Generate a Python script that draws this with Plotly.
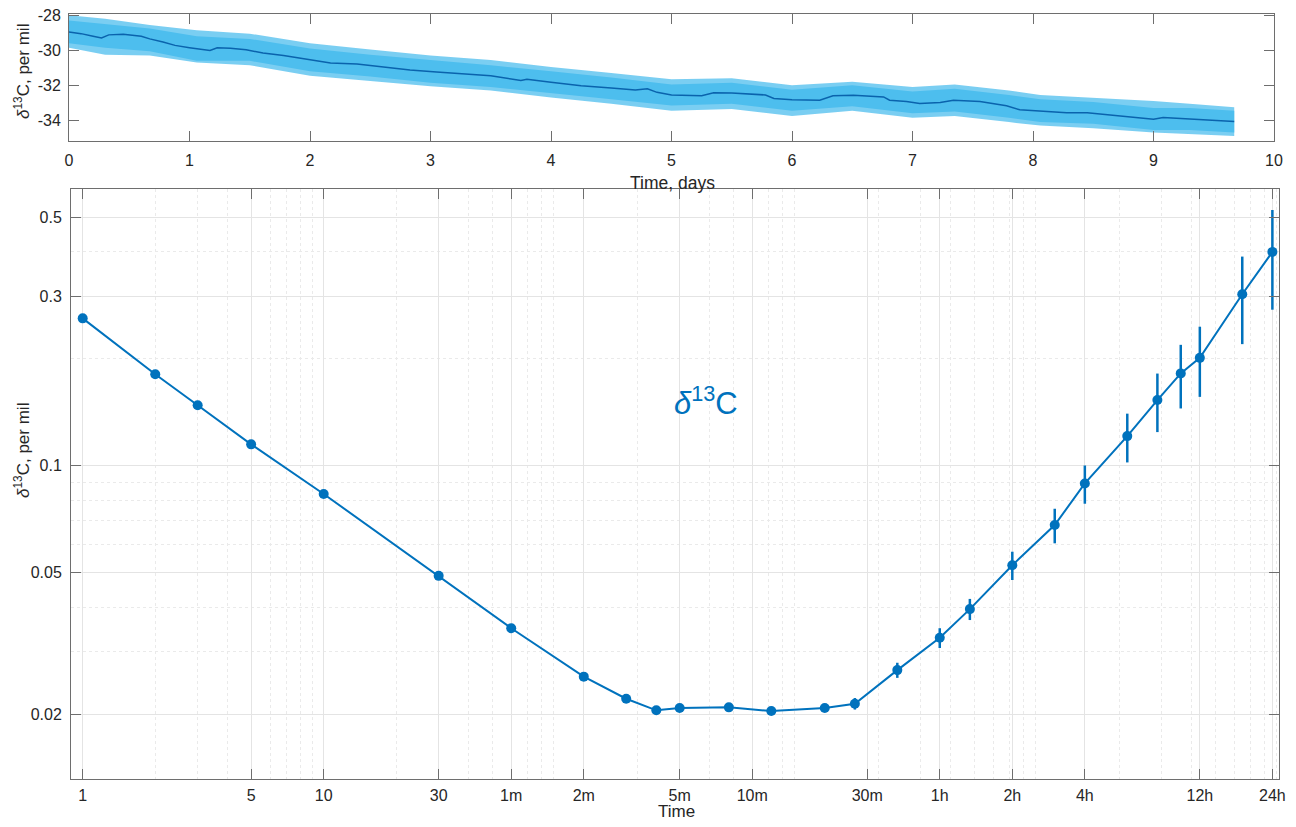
import plotly.graph_objects as go

# ---------------- top panel: delta13C time series (days) ----------------
mean_days = [0.0, 0.1, 0.2, 0.27, 0.33, 0.45, 0.6, 0.67, 0.78, 0.88, 1.0, 1.06, 1.17, 1.23,
             1.34, 1.47, 1.61, 1.78, 2.0, 2.17, 2.39, 2.61, 2.83, 3.05, 3.25, 3.5, 3.75, 3.8,
             4.0, 4.25, 4.5, 4.7, 4.8, 4.88, 5.0, 5.25, 5.35, 5.5, 5.78, 5.85, 6.0, 6.23, 6.34,
             6.51, 6.76, 6.81, 6.95, 7.06, 7.23, 7.34, 7.56, 7.78, 7.89, 8.06, 8.28, 8.45,
             8.72, 8.83, 9.0, 9.08, 9.33, 9.5, 9.67]
mean_d13c = [-28.95, -29.05, -29.2, -29.3, -29.12, -29.08, -29.2, -29.35, -29.53, -29.72, -29.85,
             -29.92, -30.01, -29.86, -29.88, -29.97, -30.16, -30.3, -30.55, -30.72, -30.78, -30.97,
             -31.12, -31.24, -31.33, -31.45, -31.72, -31.66, -31.83, -32.02, -32.16, -32.27, -32.2,
             -32.4, -32.55, -32.6, -32.42, -32.44, -32.55, -32.75, -32.83, -32.85, -32.6, -32.56,
             -32.66, -32.85, -32.92, -33.04, -32.98, -32.85, -32.92, -33.17, -33.4, -33.46, -33.56,
             -33.56, -33.75, -33.8, -33.94, -33.84, -33.94, -34.03, -34.07]

env_days = [0.0, 0.3, 0.67, 1.06, 1.5, 2.0, 2.5, 3.0, 3.5, 4.0, 4.5, 5.0, 5.5, 6.0, 6.5, 7.0,
            7.35, 7.8, 8.06, 8.5, 9.0, 9.3, 9.67]
env_hi = [-28.0, -28.2, -28.55, -28.85, -29.05, -29.6, -29.95, -30.3, -30.55, -30.95, -31.3,
          -31.65, -31.6, -32.0, -31.8, -32.1, -31.95, -32.3, -32.55, -32.7, -32.9, -33.05, -33.25]
env_lo = [-29.85, -30.25, -30.3, -30.7, -30.85, -31.45, -31.75, -32.05, -32.3, -32.7, -33.05,
          -33.45, -33.35, -33.75, -33.45, -33.85, -33.75, -34.1, -34.3, -34.45, -34.7, -34.8, -34.9]
core_hi = [-28.3, -28.5, -28.75, -29.2, -29.35, -29.9, -30.25, -30.55, -30.85, -31.2, -31.55,
           -31.95, -31.85, -32.25, -32.0, -32.35, -32.2, -32.55, -32.8, -32.95, -33.3, -33.3, -33.45]
core_lo = [-29.6, -29.85, -30.05, -30.6, -30.6, -31.2, -31.5, -31.85, -32.1, -32.45, -32.8,
           -33.15, -33.05, -33.45, -33.2, -33.6, -33.5, -33.85, -34.1, -34.2, -34.55, -34.55, -34.7]

top_xticks = [0, 1, 2, 3, 4, 5, 6, 7, 8, 9, 10]
top_yticks = [-34, -32, -30, -28]
top_yticktext = ["-34", "-32", "-30", "-28"]

# ---------------- bottom panel: Allan deviation ----------------
tau_s = [1, 2, 3, 5, 10, 30, 60, 120, 180, 240, 300, 480, 720, 1200, 1600, 2400, 3600, 4800,
         7200, 10800, 14400, 21600, 28800, 36000, 43200, 64800, 86400]
adev = [0.260, 0.181, 0.148, 0.1149, 0.0833, 0.0490, 0.0349, 0.0255, 0.0221, 0.0205, 0.0208,
        0.0209, 0.0204, 0.0208, 0.0214, 0.0266, 0.0328, 0.0395, 0.0525, 0.0681, 0.0892, 0.1212,
        0.1531, 0.182, 0.2013, 0.304, 0.400]
adev_err = [0, 0, 0, 0, 0, 0, 0.0002, 0.0002, 0.0003, 0.0003, 0.0003, 0.0004, 0.0004, 0.0005,
            0.0008, 0.0013, 0.0021, 0.0027, 0.0048, 0.0076, 0.011, 0.019, 0.0287, 0.037, 0.045,
            0.084, 0.125]

bot_xticks = [1, 5, 10, 30, 60, 120, 300, 600, 1800, 3600, 7200, 14400, 43200, 86400]
bot_xticktext = ["1", "5", "10", "30", "1m", "2m", "5m", "10m", "30m", "1h", "2h", "4h", "12h", "24h"]
bot_yticks = [0.02, 0.05, 0.1, 0.3, 0.5]
bot_yticktext = ["0.02", "0.05", "0.1", "0.3", "0.5"]

minor_x = [m * 10 ** d for d in range(0, 5) for m in range(2, 10)]
minor_y = [m * 10 ** d for d in (-2, -1) for m in range(2, 10)]

BLUE = "#0072BD"
LIGHT = "rgba(77,190,238,1)"
FONT = "Liberation Sans, Arial, Helvetica, sans-serif"
TXT = "#262626"
AX = "#6e6e6e"

# the page body adds an 8 px margin: size the figure so it fills the window exactly
OFF = 8
W, H = 1296 - 2 * OFF, 827 - 2 * OFF


def px(x):
    return (x - OFF) / W


def py(y):
    return 1 - (y - OFF) / H


fig = go.Figure()

fig.add_trace(go.Scatter(x=env_days + env_days[::-1], y=env_hi + env_lo[::-1], fill="toself",
                         fillcolor="rgba(77,190,238,0.75)", line=dict(width=0), mode="lines",
                         hoverinfo="skip", xaxis="x", yaxis="y"))
fig.add_trace(go.Scatter(x=env_days + env_days[::-1], y=core_hi + core_lo[::-1], fill="toself",
                         fillcolor=LIGHT, line=dict(width=0), mode="lines",
                         hoverinfo="skip", xaxis="x", yaxis="y"))
fig.add_trace(go.Scatter(x=mean_days, y=mean_d13c, mode="lines",
                         line=dict(color="#0a63ad", width=1.5), xaxis="x", yaxis="y"))

fig.add_trace(go.Scatter(x=tau_s, y=adev, mode="lines+markers",
                         line=dict(color=BLUE, width=2),
                         marker=dict(color=BLUE, size=10),
                         error_y=dict(type="data", array=adev_err, visible=True, thickness=2.5,
                                      width=0, color=BLUE),
                         xaxis="x2", yaxis="y2"))

common = dict(showline=True, linecolor=AX, linewidth=1, mirror="ticks", ticks="inside",
              ticklen=10, tickcolor=AX, tickwidth=1, zeroline=False, automargin=False,
              ticklabeloverflow="allow",
              tickfont=dict(family=FONT, size=16, color=TXT))

fig.update_layout(
    width=W, height=H, margin=dict(l=0, r=0, t=0, b=0, autoexpand=False),
    paper_bgcolor="white", plot_bgcolor="white", showlegend=False,
    xaxis=dict(domain=[px(69), px(1274)], range=[0, 10], tickmode="array", tickvals=top_xticks,
               showgrid=False, anchor="y", ticklabelstandoff=5, **common),
    yaxis=dict(domain=[py(140.5), py(13.5)], range=[-35.15, -27.9], tickmode="array",
               tickvals=top_yticks, ticktext=top_yticktext, showgrid=False, anchor="x",
               ticklabelstandoff=4, **common),
    xaxis2=dict(domain=[px(71), px(1279)], type="log", range=[-0.0485, 4.964], tickmode="array",
                tickvals=bot_xticks, ticktext=bot_xticktext, showgrid=True, gridcolor="#e4e4e4",
                gridwidth=1, anchor="y2", ticklabelstandoff=1,
                minor=dict(tickmode="array", tickvals=minor_x, showgrid=True, gridcolor="#eaeaea",
                           griddash="dot", gridwidth=1, ticks=""),
                **common),
    yaxis2=dict(domain=[py(779.3), py(189.3)], type="log", range=[-1.8824, -0.2218],
                tickmode="array", tickvals=bot_yticks, ticktext=bot_yticktext, showgrid=True,
                gridcolor="#e4e4e4", gridwidth=1, anchor="x2", ticklabelstandoff=5,
                minor=dict(tickmode="array", tickvals=minor_y, showgrid=True, gridcolor="#eaeaea",
                           griddash="dot", gridwidth=1, ticks=""),
                **common),
)

ann = dict(xref="paper", yref="paper", showarrow=False, xanchor="center", yanchor="middle")
fig.add_annotation(text="<i>δ</i><sup>13</sup>C", x=px(706), y=py(401),
                   font=dict(family=FONT, size=31, color=BLUE), **ann)
fig.add_annotation(text="<i>δ</i><sup>13</sup>C, per mil", x=px(22), y=py(72), textangle=-90,
                   font=dict(family=FONT, size=17, color=TXT), **ann)
fig.add_annotation(text="<i>δ</i><sup>13</sup>C, per mil", x=px(22), y=py(451), textangle=-90,
                   font=dict(family=FONT, size=17, color=TXT), **ann)
fig.add_annotation(text="Time, days", x=px(672), y=py(183),
                   font=dict(family=FONT, size=17.5, color=TXT), **ann)
fig.add_annotation(text="Time", x=px(676), y=py(811),
                   font=dict(family=FONT, size=17, color=TXT), **ann)

fig.write_html("out.html")
